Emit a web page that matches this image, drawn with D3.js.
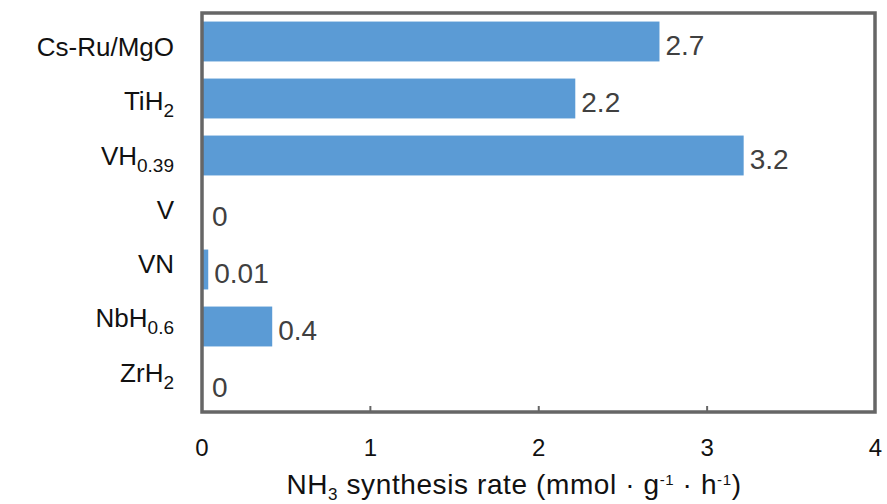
<!DOCTYPE html>
<html>
<head>
<meta charset="utf-8">
<script src="https://cdn.jsdelivr.net/npm/d3@7"></script>
<style>
  body { margin: 0; background: #fff; }
  text { font-family: "Liberation Sans", Arial, sans-serif; }
</style>
</head>
<body>
<svg id="svg"></svg>
<script>
// catalysts, each as [main text, subscript]
const catalysts = [
    ["Cs-Ru/MgO", ""],
    ["TiH", "2"],
    ["VH", "0.39"],
    ["V", ""],
    ["VN", ""],
    ["NbH", "0.6"],
    ["ZrH", "2"]
];
// bar lengths
const rates = [2.72, 2.22, 3.22, 0, 0.04, 0.42, 0];
// printed value labels
const rateLabels = ["2.7", "2.2", "3.2", "0", "0.01", "0.4", "0"];
const xTicks = [0, 1, 2, 3, 4];

const width = 887, height = 504;
const frame = { left: 202, right: 875, top: 13, bottom: 412 };

const svg = d3.select("#svg")
    .attr("width", width)
    .attr("height", height);

const x = d3.scaleLinear()
    .domain([0, 4])
    .range([201.5, 875]);

const y = d3.scaleBand()
    .domain(d3.range(catalysts.length))
    .range([frame.top, frame.bottom])
    .paddingInner(0.3)
    .paddingOuter(0.15);

// category labels sit on a slightly tighter spacing than the bars
const yLabel = d3.scalePoint()
    .domain(d3.range(catalysts.length))
    .range([46, 371.5]);

// bars
svg.append("g")
    .selectAll("rect")
    .data(rates)
    .join("rect")
    .attr("x", x(0))
    .attr("y", (d, i) => y(i))
    .attr("width", d => x(d) - x(0))
    .attr("height", y.bandwidth())
    .attr("fill", "#5b9bd5");

// value labels
svg.append("g")
    .selectAll("text")
    .data(rates)
    .join("text")
    .attr("x", d => Math.max(x(d), 206) + 6)
    .attr("y", (d, i) => y(i) + y.bandwidth() / 2 + 13.5)
    .attr("fill", "#404040")
    .attr("font-size", 28)
    .text((d, i) => rateLabels[i]);

// category labels
const cat = svg.append("g")
    .selectAll("text")
    .data(catalysts)
    .join("text")
    .attr("x", 174)
    .attr("y", (d, i) => yLabel(i) + 10)
    .attr("text-anchor", "end")
    .attr("font-size", 26)
    .attr("fill", "#111");
cat.append("tspan").text(d => d[0]);
cat.append("tspan")
    .attr("font-size", 19)
    .attr("dy", 7)
    .text(d => d[1]);

// x axis
const axis = svg.append("g")
    .attr("transform", "translate(0," + frame.bottom + ")")
    .call(d3.axisBottom(x).tickValues(xTicks).tickSizeInner(-6).tickSizeOuter(0).tickFormat(d3.format("d")));
axis.select(".domain").remove();
axis.selectAll(".tick line")
    .attr("stroke", "#666")
    .attr("stroke-width", 2)
    .attr("opacity", d => (d === 0 || d === 4) ? 0 : 1);
axis.selectAll(".tick text")
    .attr("y", 44)
    .attr("dy", 0)
    .attr("font-size", 24)
    .attr("fill", "#111")
    .attr("font-family", "Liberation Sans, Arial, sans-serif");

// frame
svg.append("rect")
    .attr("x", frame.left)
    .attr("y", frame.top)
    .attr("width", frame.right - frame.left)
    .attr("height", frame.bottom - frame.top)
    .attr("fill", "none")
    .attr("stroke", "#666")
    .attr("stroke-width", 3.5);

// axis title
const title = svg.append("text")
    .attr("x", 514)
    .attr("y", 494)
    .attr("text-anchor", "middle")
    .attr("font-size", 28)
    .attr("letter-spacing", 0.6)
    .attr("fill", "#111");
title.append("tspan").text("NH");
title.append("tspan").attr("font-size", 17).attr("dy", 6).text("3");
title.append("tspan").attr("dy", -6).text(" synthesis rate (mmol \u00b7 g");
title.append("tspan").attr("font-size", 15).attr("dy", -9).text("-1");
title.append("tspan").attr("dy", 9).text(" \u00b7 h");
title.append("tspan").attr("font-size", 15).attr("dy", -9).text("-1");
title.append("tspan").attr("dy", 9).text(")");
</script>
</body>
</html>
